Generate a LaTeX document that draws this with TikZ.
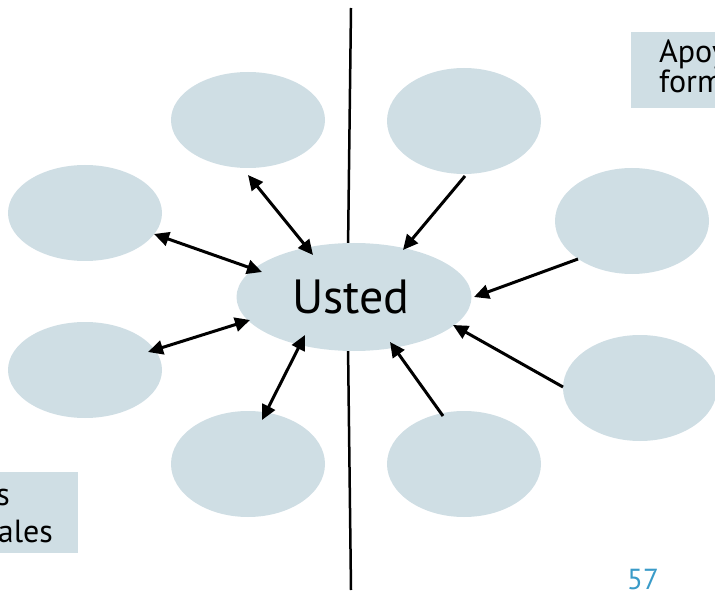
\documentclass[tikz,border=0pt]{standalone}
\usepackage{fontspec}
\setmainfont{PT Sans}
\usetikzlibrary{shapes.geometric,arrows.meta}
\definecolor{bubblefill}{RGB}{207,222,228}
\definecolor{numblue}{RGB}{58,155,200}
\tikzset{
  bubble/.style={ellipse, fill=bubblefill, draw=none, inner sep=0pt},
  small/.style={bubble, minimum width=154pt, minimum height=96pt},
  tall/.style={bubble, minimum width=154pt, minimum height=106pt},
  conn/.style={line width=3pt, -{Triangle[length=15pt,width=14pt]}},
  dconn/.style={line width=3pt, {Triangle[length=15pt,width=14pt]}-{Triangle[length=15pt,width=14pt]}},
  divider/.style={line width=2.5pt, black},
  labelbox/.style={fill=bubblefill, draw=none},
  boxtext/.style={font=\fontsize{32}{36}\selectfont, inner sep=0pt},
}
\begin{document}
\begin{tikzpicture}[x=1pt,y=-1pt]
\clip (0,0) rectangle (715,596);
\useasboundingbox (0,0) rectangle (715,596);
% divider line
\coordinate (d1) at (351,8);
\coordinate (d2) at (348,250);
\coordinate (d3) at (348,345);
\coordinate (d4) at (351,590);
\draw[divider] (d1) -- (d2);
\draw[divider] (d3) -- (d4);
% label boxes
\fill[labelbox] (631,32) rectangle (715,108);
\fill[labelbox] (0,472) rectangle (78,553);
\node[boxtext, anchor=base west] (ra) at (659,63) {Apoyos};
\node[boxtext, anchor=base west] (rb) at (659,93) {formales};
\node[boxtext, anchor=base east] (la) at (10,505) {Apoyos};
\node[boxtext, anchor=base east] (lb) at (53,542) {informales};
% bubbles
\node[small] (tl) at (248,120) {};
\node[tall] (tr) at (464,121) {};
\node[small] (lu) at (85,213) {};
\node[tall] (ru) at (632,221) {};
\node[small] (ll) at (85,370) {};
\node[tall] (rl) at (640,388) {};
\node[tall] (bl) at (248,464) {};
\node[tall] (br) at (464,464) {};
\node[bubble, minimum width=235pt, minimum height=108pt, font=\fontsize{48}{56}\selectfont] (u) at (354,297) {};
\node[font=\fontsize{48}{56}\selectfont, anchor=base, inner sep=0pt] (ut) at (351,313) {Usted};
% arrow endpoints
\coordinate (a1s) at (248,175); \coordinate (a1e) at (313,255);
\coordinate (a2s) at (154,234); \coordinate (a2e) at (262,272);
\coordinate (a3s) at (148,352); \coordinate (a3e) at (250,320);
\coordinate (a4s) at (262,420); \coordinate (a4e) at (305,335);
\coordinate (b1s) at (465,176); \coordinate (b1e) at (403,250);
\coordinate (b2s) at (578,259); \coordinate (b2e) at (474,297);
\coordinate (b3s) at (563,387); \coordinate (b3e) at (453,325);
\coordinate (b4s) at (443,416); \coordinate (b4e) at (390,342);
\draw[dconn] (a1s) -- (a1e);
\draw[dconn] (a2s) -- (a2e);
\draw[dconn] (a3s) -- (a3e);
\draw[dconn] (a4s) -- (a4e);
\draw[conn] (b1s) -- (b1e);
\draw[conn] (b2s) -- (b2e);
\draw[conn] (b3s) -- (b3e);
\draw[conn] (b4s) -- (b4e);
% page number
\node[font=\fontsize{29}{34}\selectfont, text=numblue, anchor=base, inner sep=0pt] (pn) at (643,589) {57};
\end{tikzpicture}
\end{document}
